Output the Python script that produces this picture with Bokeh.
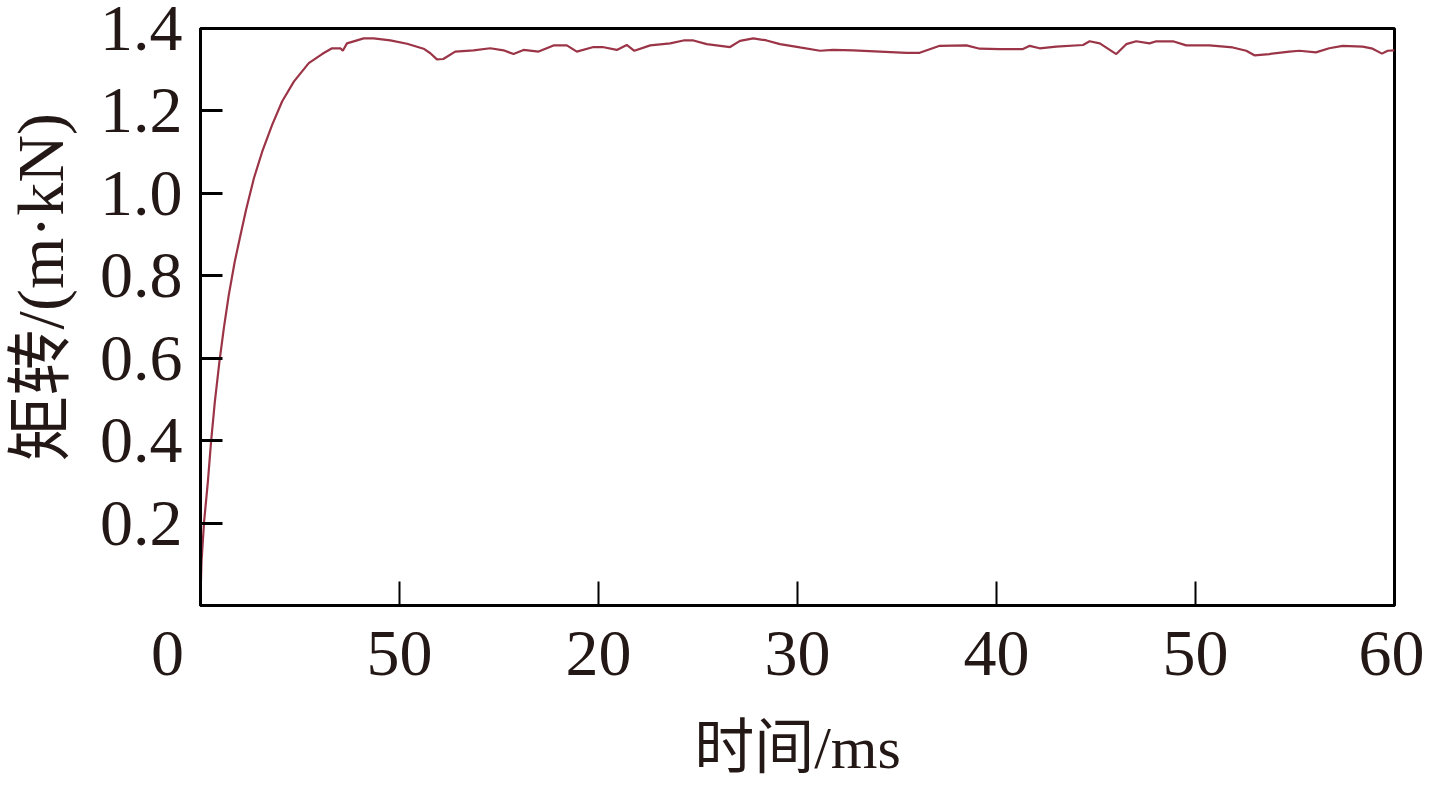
from bokeh.plotting import figure
from bokeh.models import FixedTicker, Range1d
from bokeh.embed import file_html
from bokeh.resources import INLINE

# ---- data ----
time_ms = [0.0, 0.05, 0.18, 0.37, 0.53, 0.72, 0.95, 1.17, 1.42, 1.72, 2.01, 2.29,
           2.68, 3.10, 3.60, 4.10, 4.69, 5.44, 6.11, 6.61,
           7.03, 7.15, 7.36, 8.2, 8.7, 9.54, 10.38, 11.21, 11.55, 11.88, 12.2, 12.8,
           13.72, 14.56, 15.23, 15.73, 16.23, 16.99, 17.74, 18.41, 18.91, 19.75, 20.2,
           20.92, 21.42, 21.8, 22.6, 23.6, 24.27, 24.77, 25.44, 26.61, 27.11, 27.78,
           28.45, 29.12, 30.12, 31.13, 31.79, 32.8, 34.14, 35.48, 36.14, 37.15, 38.49,
           39.16, 40.16, 41.33, 41.67, 42.17, 43.0, 44.35, 44.68, 45.19, 46.02, 46.52,
           47.02, 47.69, 48.03, 48.87, 49.53, 50.7, 51.87, 52.55, 52.96, 53.71, 54.72,
           55.22, 56.05, 56.72, 57.39, 58.4, 58.9, 59.37, 59.66, 60.0]
torque = [0.02, 0.106, 0.203, 0.30, 0.397, 0.494, 0.591, 0.672, 0.753, 0.834, 0.899, 0.96,
          1.036, 1.101, 1.166, 1.223, 1.271, 1.316, 1.338, 1.352,
          1.352, 1.346, 1.364, 1.376, 1.376, 1.371, 1.363, 1.351, 1.34, 1.325, 1.326, 1.344,
          1.347, 1.352, 1.347, 1.338, 1.348, 1.344, 1.359, 1.359, 1.344, 1.355, 1.355,
          1.348, 1.36, 1.346, 1.359, 1.364, 1.371, 1.371, 1.362, 1.355, 1.37, 1.376,
          1.371, 1.362, 1.354, 1.346, 1.348, 1.347, 1.344, 1.341, 1.341, 1.358, 1.359,
          1.351, 1.35, 1.35, 1.358, 1.352, 1.356, 1.36, 1.369, 1.364, 1.338, 1.362,
          1.369, 1.364, 1.369, 1.369, 1.359, 1.359, 1.354, 1.346, 1.335, 1.338, 1.344,
          1.346, 1.342, 1.352, 1.358, 1.356, 1.351, 1.339, 1.346, 1.347]

x_ticks = [0, 10, 20, 30, 40, 50, 60]
x_tick_labels = ["0\u00a0\u00a0\u00a0\u00a0", "50", "20", "30", "40", "50", "60"]
y_ticks = [0.2, 0.4, 0.6, 0.8, 1.0, 1.2, 1.4]
y_tick_labels = ["0.2", "0.4", "0.6", "0.8", "1.0", "1.2", "1.4"]
x_title = "时间/ms"
y_title = "\u2002\u2009\u2009矩转/(m·kN)"

TEXT = "#231815"
FONT = "'Liberation Serif', 'Noto Sans CJK SC', serif"

p = figure(frame_width=1194, frame_height=577, output_backend="svg",
           toolbar_location=None, x_range=Range1d(0, 60), y_range=Range1d(0, 1.4),
           min_border_left=193, min_border_right=30, min_border_top=28,
           min_border_bottom=160)
p.background_fill_color = "white"
p.border_fill_color = "white"
p.grid.visible = False
p.outline_line_color = "black"
p.outline_line_width = 3
p.outline_line_alpha = 1.0

p.line(time_ms, torque, line_color="#9B3447", line_width=2.2)

# x axis
xa = p.xaxis[0]
xa.ticker = FixedTicker(ticks=x_ticks)
xa.major_label_overrides = {t: l for t, l in zip(x_ticks, x_tick_labels)}
xa.major_tick_in = 24
xa.major_tick_out = 0
xa.major_tick_line_width = 2
xa.minor_tick_line_color = None
xa.axis_line_width = 3
xa.major_label_text_font = FONT
xa.major_label_text_font_size = "66px"
xa.major_label_text_color = TEXT
xa.major_label_standoff = 10
xa.axis_label = x_title
xa.axis_label_text_font = FONT
xa.axis_label_text_font_size = "60px"
xa.axis_label_text_font_style = "normal"
xa.axis_label_text_color = TEXT
xa.axis_label_standoff = 23

# y axis
ya = p.yaxis[0]
ya.ticker = FixedTicker(ticks=y_ticks)
ya.major_label_overrides = {t: l for t, l in zip(y_ticks, y_tick_labels)}
ya.major_tick_in = 22
ya.major_tick_out = 0
ya.major_tick_line_width = 3
ya.minor_tick_line_color = None
ya.axis_line_width = 3
ya.major_label_text_font = FONT
ya.major_label_text_font_size = "66px"
ya.major_label_text_color = TEXT
ya.major_label_standoff = 18
ya.axis_label = y_title
ya.axis_label_text_font = FONT
ya.axis_label_text_font_size = "66px"
ya.axis_label_text_font_style = "normal"
ya.axis_label_text_color = TEXT
ya.axis_label_standoff = 20

open("out.html", "w").write(file_html(p, INLINE))
